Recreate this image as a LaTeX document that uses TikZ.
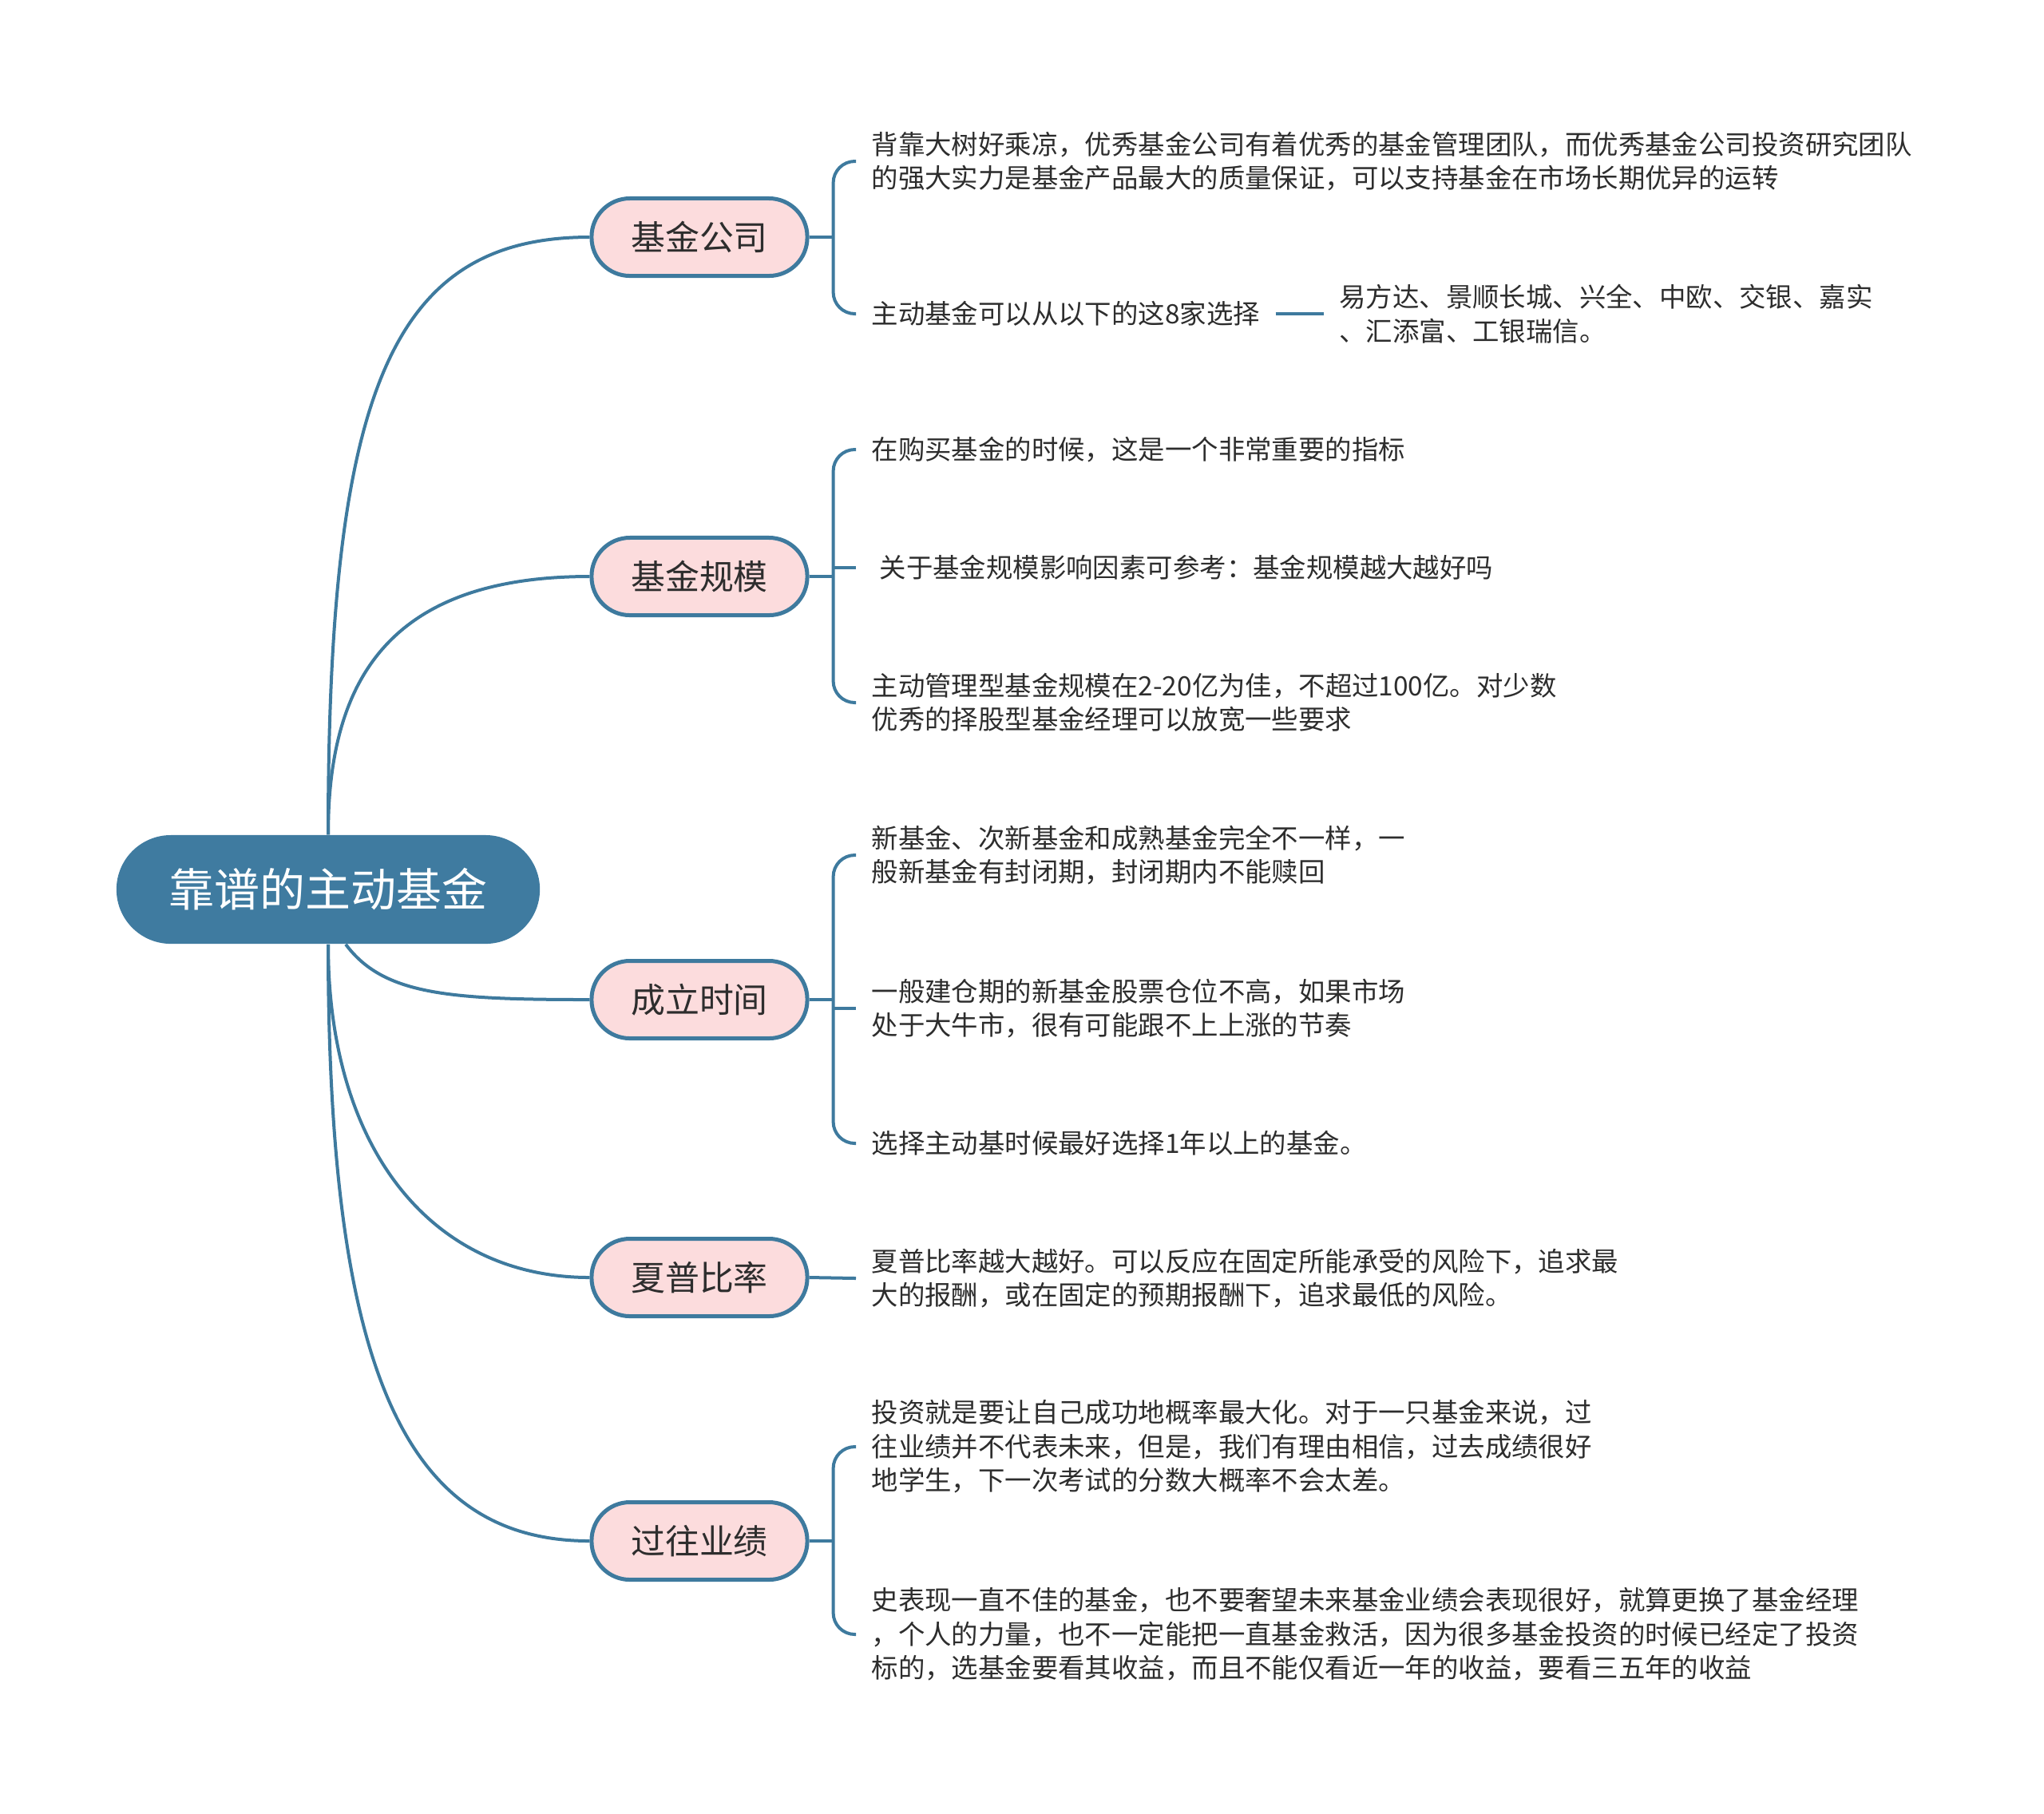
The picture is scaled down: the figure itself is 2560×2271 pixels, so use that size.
\documentclass[tikz,border=0pt]{standalone}
\usepackage{fontspec}
\setmainfont{Noto Sans CJK SC}
\usetikzlibrary{positioning}

\definecolor{mapblue}{RGB}{62,122,158}
\definecolor{rootblue}{RGB}{63,123,160}
\definecolor{branchpink}{RGB}{252,220,221}
\definecolor{leaftext}{RGB}{45,45,45}

\begin{document}
\begin{tikzpicture}[
    x=0.01cm, y=-0.01cm,
    root/.style={rectangle, fill=rootblue, text=white,
                 minimum width=5.3cm, minimum height=1.36cm,
                 rounded corners=0.68cm, font={\fontsize{16.2}{20}\selectfont}},
    branch/.style={rectangle, draw=mapblue, fill=branchpink, line width=0.05cm,
                   minimum width=2.7cm, minimum height=0.97cm,
                   rounded corners=0.48cm, text=leaftext,
                   font={\fontsize{12.2}{15}\selectfont}},
    leaf/.style={anchor=west, align=left, inner xsep=0.19cm, inner ysep=0pt,
                 text=leaftext, font={\fontsize{9.5}{12.1}\selectfont}},
    link/.style={draw=mapblue, line width=0.04cm},
    bracket/.style={link, rounded corners=0.27cm}
]
    \useasboundingbox (0,0) rectangle (2560,2271);

    % root and main topics
    \node[root] (root) at (411,1114) {靠谱的主动基金};
    \node[branch] (company) at (876,297) {基金公司};
    \node[branch] (size) at (876,722) {基金规模};
    \node[branch] (age) at (876,1252) {成立时间};
    \node[branch] (sharpe) at (876,1600) {夏普比率};
    \node[branch] (record) at (876,1930) {过往业绩};

    % details
    \node[leaf] (company1) at (1072,202) {背靠大树好乘凉，优秀基金公司有着优秀的基金管理团队，而优秀基金公司投资研究团队\\的强大实力是基金产品最大的质量保证，可以支持基金在市场长期优异的运转};
    \node[leaf] (company2) at (1072,393) {主动基金可以从以下的这8家选择};
    \node[leaf, right=0.6cm of company2] (picks) {易方达、景顺长城、兴全、中欧、交银、嘉实\\、汇添富、工银瑞信。};

    \node[leaf] (size1) at (1072,563) {在购买基金的时候，这是一个非常重要的指标};
    \node[leaf] (size2) at (1072,711) {\hspace{0.1cm}关于基金规模影响因素可参考：基金规模越大越好吗};
    \node[leaf] (size3) at (1072,880) {主动管理型基金规模在2-20亿为佳，不超过100亿。对少数\\优秀的择股型基金经理可以放宽一些要求};

    \node[leaf] (age1) at (1072,1071) {新基金、次新基金和成熟基金完全不一样，一\\般新基金有封闭期，封闭期内不能赎回};
    \node[leaf] (age2) at (1072,1263) {一般建仓期的新基金股票仓位不高，如果市场\\处于大牛市，很有可能跟不上上涨的节奏};
    \node[leaf] (age3) at (1072,1432) {选择主动基时候最好选择1年以上的基金。};

    \node[leaf] (sharpe1) at (1072,1601) {夏普比率越大越好。可以反应在固定所能承受的风险下，追求最\\大的报酬，或在固定的预期报酬下，追求最低的风险。};

    \node[leaf] (record1) at (1072,1812) {投资就是要让自己成功地概率最大化。对于一只基金来说，过\\往业绩并不代表未来，但是，我们有理由相信，过去成绩很好\\地学生，下一次考试的分数大概率不会太差。};
    \node[leaf] (record2) at (1072,2047) {史表现一直不佳的基金，也不要奢望未来基金业绩会表现很好，就算更换了基金经理\\，个人的力量，也不一定能把一直基金救活，因为很多基金投资的时候已经定了投资\\标的，选基金要看其收益，而且不能仅看近一年的收益，要看三五年的收益};

    % root to topics
    \draw[link] (root.north) .. controls +(0,-556) and +(-248,0) .. (company.west);
    \draw[link] (root.north) .. controls +(0,-197) and +(-248,0) .. (size.west);
    \draw[link] ([xshift=0.22cm]root.south) .. controls +(47,63) and +(-178,0) .. (age.west);
    \draw[link] (root.south) .. controls +(0,255) and +(-199,0) .. (sharpe.west);
    \draw[link] (root.south) .. controls +(0,532) and +(-232,0) .. (record.west);

    % brackets
    \coordinate (kcompany) at ([xshift=0.3cm]company.east);
    \coordinate (ksize) at ([xshift=0.3cm]size.east);
    \coordinate (kage) at ([xshift=0.3cm]age.east);
    \coordinate (krecord) at ([xshift=0.3cm]record.east);

    \draw[link] (company.east) -- (kcompany);
    \draw[bracket] (company1.west) -- (company1.west -| kcompany) -- (company2.west -| kcompany) -- (company2.west);
    \draw[link] (company2.east) -- (picks.west);

    \draw[link] (size.east) -- (ksize);
    \draw[bracket] (size1.west) -- (size1.west -| ksize) -- (size3.west -| ksize) -- (size3.west);
    \draw[link] (size2.west -| ksize) -- (size2.west);

    \draw[link] (age.east) -- (kage);
    \draw[bracket] (age1.west) -- (age1.west -| kage) -- (age3.west -| kage) -- (age3.west);
    \draw[link] (age2.west -| kage) -- (age2.west);

    \draw[link] (sharpe.east) -- (sharpe1.west);

    \draw[link] (record.east) -- (krecord);
    \draw[bracket] (record1.west) -- (record1.west -| krecord) -- (record2.west -| krecord) -- (record2.west);
\end{tikzpicture}
\end{document}
